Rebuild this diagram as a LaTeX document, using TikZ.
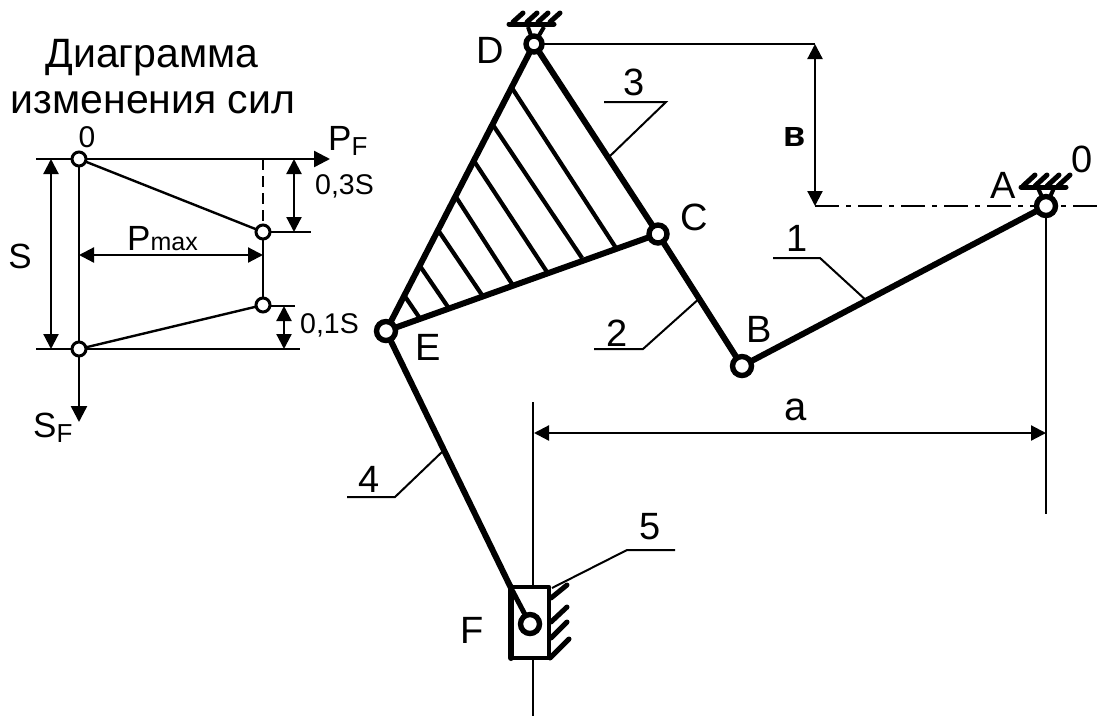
\documentclass[tikz,border=0pt]{standalone}
\usepackage{fontspec}
\setmainfont{Liberation Sans}
\usetikzlibrary{arrows.meta}
\newcommand{\fsz}[1]{\fontsize{#1}{#1}\selectfont}
\newcommand{\lowsub}[1]{\raisebox{-5pt}{\fsz{26}#1}}
\tikzset{
  thinl/.style={line width=2pt},
  midl/.style={line width=2.4pt},
  link/.style={line width=6pt,line cap=round},
  hatchl/.style={line width=4.2pt},
  ground/.style={line width=5pt,line cap=round},
  tip/.style={-{Triangle[length=16pt,width=16pt]}},
  dim/.style={line width=2.2pt,{Triangle[length=15pt,width=15pt]}-{Triangle[length=15pt,width=15pt]}},
  pinS/.style={circle,draw,fill=white,line width=3pt,minimum size=14pt,inner sep=0pt},
  pinL/.style={circle,draw,fill=white,line width=5.4pt,minimum size=19pt,inner sep=0pt},
  lbl/.style={font=\fsz{38},inner sep=0pt},
  force/.style={font=\fsz{35},inner sep=0pt},
  title/.style={font=\fsz{41},inner sep=0pt,anchor=base},
  small/.style={font=\fsz{28.5},inner sep=0pt},
}
\begin{document}
\begin{tikzpicture}[x=1pt,y=-1pt]
\useasboundingbox (0,0) rectangle (1101,716);
% ---------- force diagram ----------
\node[title] (t1) at (152,67) {Диаграмма};
\node[title] (t2) at (153,113) {изменения сил};
\coordinate (o1) at (79,159);
\coordinate (o2) at (79,349);
\coordinate (p1) at (263,232);
\coordinate (p2) at (263,305);
\coordinate (p2e) at (263,306);
\coordinate (top) at (263,159);
\coordinate (tl) at (36,159);
\coordinate (tr) at (330,159);
\coordinate (bl) at (36,349);
\coordinate (br) at (300,349);
\coordinate (sf) at (79,422);
\coordinate (e1) at (311,232);
\coordinate (e2) at (295,306);
\coordinate (ps) at (51,159);
\coordinate (pe) at (51,349);
\coordinate (a3) at (294,159);
\coordinate (b3) at (294,232);
\coordinate (a1) at (284,306);
\coordinate (b1) at (284,349);
\coordinate (mL) at (79,255);
\coordinate (mR) at (263,255);
\draw[midl,tip] (tl) -- (tr);
\draw[midl] (bl) -- (br);
\draw[midl,tip] (o1) -- (sf);
\draw[midl] (o1) -- (p1);
\draw[midl] (o2) -- (p2);
\draw[midl] (p1) -- (p2);
\draw[midl,dash pattern=on 11pt off 6pt] (top) -- (p1);
\draw[midl] (p1) -- (e1);
\draw[midl] (p2e) -- (e2);
\draw[dim] (ps) -- (pe);
\draw[dim] (a3) -- (b3);
\draw[dim] (a1) -- (b1);
\draw[dim] (mL) -- (mR);
\node[pinS] (no1) at (o1) {};
\node[pinS] (no2) at (o2) {};
\node[pinS] (np1) at (p1) {};
\node[pinS] (np2) at (p2) {};
\node[force,font=\fsz{30}] (zero1) at (87,137) {0};
\node[force,anchor=base west] (pf) at (328,150) {P\lowsub{F}};
\node[force,anchor=base west] (sfl) at (33,437) {S\lowsub{F}};
\node[force] (s) at (20,256) {S};
\node[force,anchor=base west] (pm) at (127,250) {P{\fsz{25}max}};
\node[small,anchor=west] (l3) at (315,186) {0,3S};
\node[small,anchor=west] (l1) at (300,325) {0,1S};
% ---------- mechanism ----------
\coordinate (D) at (534,44);
\coordinate (C) at (658,234);
\coordinate (E) at (386,331);
\coordinate (B) at (742,366);
\coordinate (A) at (1046,206);
\coordinate (F) at (530,624);
\coordinate (Ft) at (511,588);
% hatch
\foreach \xa/\ya/\xb/\yb in {512/88/616/248,493/125/582/258,474/161/547/272,456/197/514/287,438/230/482/295,420/266/448/307,404/295/419/317}
  \draw[hatchl] (\xa,\ya) -- (\xb,\yb);
% thin geometry
\coordinate (cl1) at (533,402);
\coordinate (cl2) at (533,587);
\coordinate (cl3) at (533,659);
\coordinate (cl4) at (533,716);
\coordinate (vA) at (1046,514);
\coordinate (dE) at (815,44);
\coordinate (dA) at (815,206);
\coordinate (dR) at (1101,206);
\coordinate (aL) at (534,433);
\coordinate (aR) at (1046,433);
\draw[thinl] (cl1) -- (cl2);
\draw[thinl] (cl3) -- (cl4);
\draw[thinl] (A) -- (vA);
\draw[thinl] (D) -- (dE);
\draw[thinl,dash pattern=on 24pt off 7pt on 5pt off 7pt] (dA) -- (dR);
\draw[dim] (dE) -- (dA);
\draw[dim] (aL) -- (aR);
% leaders
\coordinate (q1a) at (773,258); \coordinate (q1b) at (820,258); \coordinate (q1c) at (868,302);
\coordinate (q2a) at (594,349); \coordinate (q2b) at (643,349); \coordinate (q2c) at (701,297);
\coordinate (q3a) at (604,102); \coordinate (q3b) at (666,102); \coordinate (q3c) at (610,156);
\coordinate (q4a) at (347,497); \coordinate (q4b) at (395,497); \coordinate (q4c) at (443,451);
\coordinate (q5a) at (675,550); \coordinate (q5b) at (627,550); \coordinate (q5c) at (552,588);
\draw[thinl] (q1a) -- (q1b) -- (q1c);
\draw[thinl] (q2a) -- (q2b) -- (q2c);
\draw[thinl] (q3a) -- (q3b) -- (q3c);
\draw[thinl] (q4a) -- (q4b) -- (q4c);
\draw[thinl] (q5a) -- (q5b) -- (q5c);
% links
\draw[link] (D) -- (C);
\draw[link] (D) -- (E);
\draw[link] (E) -- (C);
\draw[link] (C) -- (B);
\draw[link] (B) -- (A);
\draw[link] (E) -- (Ft);
% slider
\draw[line width=4.4pt,line join=round] (511,587) rectangle (549,658);
\draw[line width=6pt,line cap=round] (511,587) -- (511,658);
\draw[line width=5pt] (Ft) -- (F);
\foreach \xa/\ya/\xb/\yb in {551/598/567/585,551/622/567/607,551/638/567/622,550/658/569/639}
  \draw[ground] (\xa,\ya) -- (\xb,\yb);
% supports
\coordinate (Dl) at (528,27); \coordinate (Dr) at (544,27);
\draw[line width=4pt] (Dl) -- (D) -- (Dr);
\draw[ground] (509,24) -- (554,24);
\foreach \x in {513,527,538,550}
  \draw[ground] (\x,22) -- (\x+10,13);
\coordinate (Al) at (1038,188); \coordinate (Ar) at (1054,188);
\draw[line width=4pt] (Al) -- (A) -- (Ar);
\draw[ground] (1021,187) -- (1066,187);
\foreach \x in {1023,1035,1047,1058}
  \draw[ground] (\x,186) -- (\x+12,175);
% pins
\node[pinL,minimum size=16pt,line width=5.4pt] (nD) at (D) {};
\node[pinL,minimum size=18pt] (nC) at (C) {};
\node[pinL] (nE) at (E) {};
\node[pinL] (nB) at (B) {};
\node[pinL] (nA) at (A) {};
\node[pinL] (nF) at (F) {};
% labels
\node[lbl] (lD) at (490,50) {D};
\node[lbl] (lC) at (694,217) {C};
\node[lbl] (lE) at (428,347) {E};
\node[lbl] (lB) at (759,329) {B};
\node[lbl] (lA) at (1003,185) {A};
\node[lbl] (l0) at (1082,159) {0};
\node[lbl] (lF) at (472,630) {F};
\node[lbl] (n1) at (797,238) {1};
\node[lbl] (n2) at (617,333) {2};
\node[lbl] (n3) at (634,82) {3};
\node[lbl] (n4) at (369,479) {4};
\node[lbl] (n5) at (650,527) {5};
\node[lbl,font=\fsz{40}] (la) at (796,410) {а};
\node[font=\fsz{36}\bfseries,inner sep=0pt] (lb) at (795,137) {в};
\end{tikzpicture}
\end{document}
